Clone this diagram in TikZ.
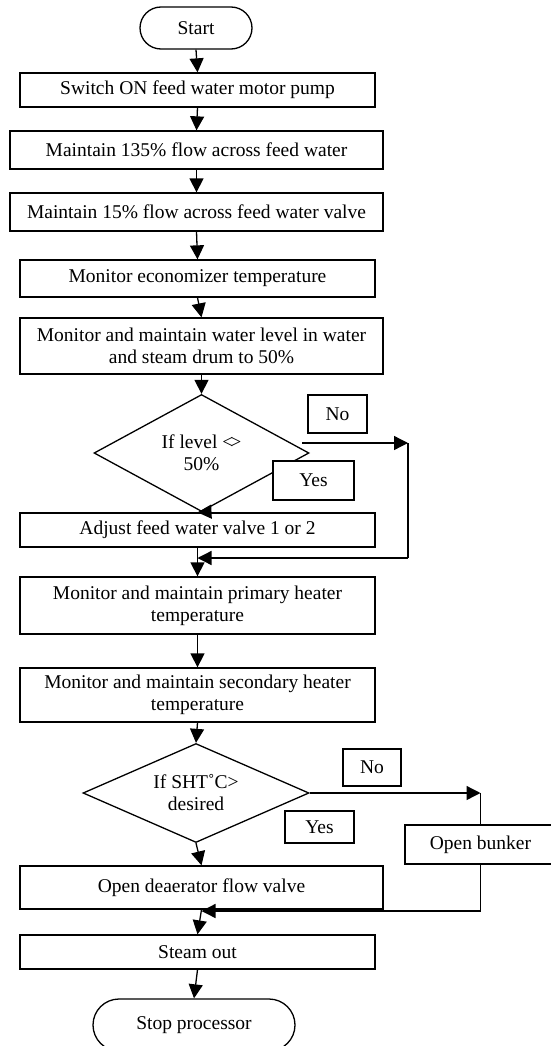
\documentclass[tikz,border=0pt]{standalone}
\usepackage{fontspec}
\setmainfont{Liberation Serif}
\usetikzlibrary{shapes.geometric,arrows.meta,calc}
\begin{document}
\begin{tikzpicture}[x=1pt,y=-1pt,
  every node/.style={font=\fontsize{19.5}{22}\selectfont},
  box/.style={draw, line width=1.3pt, fill=white, inner sep=0pt, align=center},
  dec/.style={diamond, draw, line width=1.3pt, fill=white, inner sep=0pt, aspect=2, align=center},
  arr/.style={line width=1.3pt, -{Triangle[length=14pt,width=14pt]}},
  ln/.style={line width=1.3pt}]
\useasboundingbox (0,0) rectangle (550,1046);
% nodes
\node[box, rounded corners=21pt, minimum width=112pt, minimum height=42pt] (start) at (196,28) {Start};
\node[box, minimum width=355pt, minimum height=34pt] (b1) at (197.5,90) {\raisebox{-3pt}{Switch ON feed water motor pump}};
\node[box, minimum width=373pt, minimum height=38pt] (b2) at (196.5,150) {Maintain 135\% flow across feed water};
\node[box, minimum width=373pt, minimum height=38pt] (b3) at (196.5,212) {Maintain 15\% flow across feed water valve};
\node[box, minimum width=355pt, minimum height=37pt] (b4) at (197.5,278.5) {Monitor economizer temperature};
\node[box, minimum width=363pt, minimum height=56pt] (b5) at (201.5,346) {Monitor and maintain water level in water\\and steam drum to 50\%};
\node[dec, minimum width=215pt, minimum height=117pt] (d1) at (201.5,453) {If level <\kern-0.15em>\\50\%};
\node[box, minimum width=59pt, minimum height=38pt] (no1) at (337.5,414) {No};
\node[box, minimum width=81pt, minimum height=39pt] (yes1) at (313.5,480.5) {Yes};
\node[box, minimum width=355pt, minimum height=34pt] (adj) at (197.5,530) {\raisebox{-3pt}{Adjust feed water valve 1 or 2}};
\node[box, minimum width=355pt, minimum height=57pt] (prim) at (197.5,605.5) {Monitor and maintain primary heater\\temperature};
\node[box, minimum width=355pt, minimum height=54pt] (sec) at (197.5,695) {\raisebox{-3pt}{\begin{tabular}{@{}c@{}}Monitor and maintain secondary heater\\temperature\end{tabular}}};
\node[dec, minimum width=226pt, minimum height=99pt] (d2) at (196,793) {If SHT˚C>\\desired};
\node[box, minimum width=58pt, minimum height=37pt] (no2) at (372,767.5) {No};
\node[box, minimum width=69pt, minimum height=32pt] (yes2) at (319.5,827) {Yes};
\node[box, minimum width=151pt, minimum height=39pt] (bunk) at (480.5,844.5) {Open bunker};
\node[box, minimum width=363pt, minimum height=43pt] (deae) at (201.5,887.5) {Open deaerator flow valve};
\node[box, minimum width=355pt, minimum height=34pt] (steam) at (197.5,952) {Steam out};
\node[box, rounded corners=26pt, minimum width=202pt, minimum height=52pt] (stop) at (194,1025) {Stop processor};
% coordinates for loops
\coordinate (n1a) at (302,443);
\coordinate (n1b) at (408,443);
\coordinate (n1c) at (408,558);
\coordinate (n2b) at (480.5,793);
\coordinate (n2c) at (480.5,911);
% main flow
\draw[arr] (start.south) -- (b1.north);
\draw[arr] (b1.south) -- (b2.north);
\draw[arr] (b2.south) -- (b3.north);
\draw[arr] (b3.south) -- (b4.north);
\draw[arr] (b4.south) -- (b5.north);
\draw[arr] (b5.south) -- (d1.north);
\draw[arr] (d1.south) -- (adj.north);
\draw[arr] (adj.south) -- (prim.north);
\draw[arr] (prim.south) -- (sec.north);
\draw[arr] (sec.south) -- (d2.north);
\draw[arr] (d2.south) -- (deae.north);
\draw[arr] (deae.south) -- (steam.north);
\draw[arr] (steam.south) -- (stop.north);
% No loop 1
\draw[arr] (n1a) -- (n1b);
\draw[ln] (n1b) -- (n1c);
\draw[arr] (n1c) -- (adj.south |- n1c);
% No loop 2
\draw[arr] (d2.east) -- (n2b);
\draw[ln] (n2b) -- (bunk.north);
\draw[ln] (bunk.south) -- (n2c);
\draw[arr] (n2c) -- (deae.south |- n2c);
\end{tikzpicture}
\end{document}
